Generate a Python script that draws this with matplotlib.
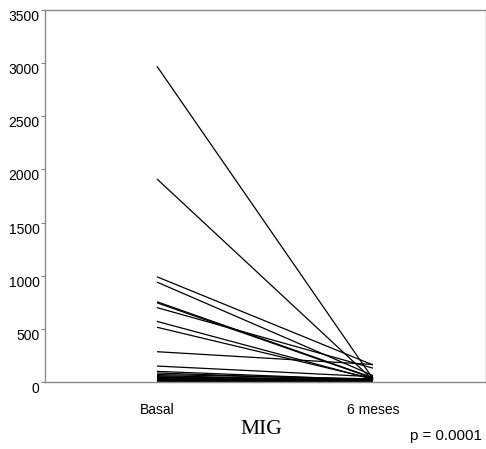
import matplotlib
matplotlib.use("Agg")
import matplotlib.pyplot as plt

timepoints = ["Basal", "6 meses"]
basal = [2970, 1910, 990, 940, 755, 745, 700, 570, 515, 285, 150, 100, 85, 70,
         60, 50, 45, 40, 32, 28, 22, 18, 14, 10, 7, 4, 2]
meses6 = [30, 20, 160, 60, 40, 35, 130, 25, 30, 165, 50, 20, 15, 30,
          10, 20, 8, 15, 10, 5, 12, 6, 4, 3, 2, 2, 1]
yticks = [0, 500, 1000, 1500, 2000, 2500, 3000, 3500]

fig = plt.figure(figsize=(4.86, 4.49), dpi=100)
ax = fig.add_axes([45/486, 1-382/449, 440/486, 372/449])

for b, m in zip(basal, meses6):
    ax.plot([0, 1], [b, m], color="black", lw=0.9, solid_capstyle="butt")

ax.set_xlim(-0.5185, 1.5185)
ax.set_ylim(0, 3500)
ax.set_yticks(yticks)
ax.set_yticklabels([str(t) for t in yticks], fontsize=10, family="Liberation Sans",
                   va="top")
ax.tick_params(axis="y", length=3, width=0.8, color="#808080", pad=1)
ax.set_xticks([0, 1])
ax.set_xticklabels(timepoints, fontsize=10, family="Liberation Sans")
ax.tick_params(axis="x", length=0, pad=15)

for s in ["left", "top", "bottom"]:
    ax.spines[s].set_color("#8a8a8a")
    ax.spines[s].set_linewidth(1.0)
ax.spines["right"].set_color("#e8e8e8")
ax.spines["right"].set_linewidth(0.8)

fig.text(261/486, 1-429/449, "MIG", ha="center", va="center",
         fontsize=15.5, family="Liberation Serif")
fig.text(482/486, 1-436/449, "p = 0.0001", ha="right", va="center",
         fontsize=10.8, family="Liberation Sans")

fig.savefig("out.png", dpi=100)
